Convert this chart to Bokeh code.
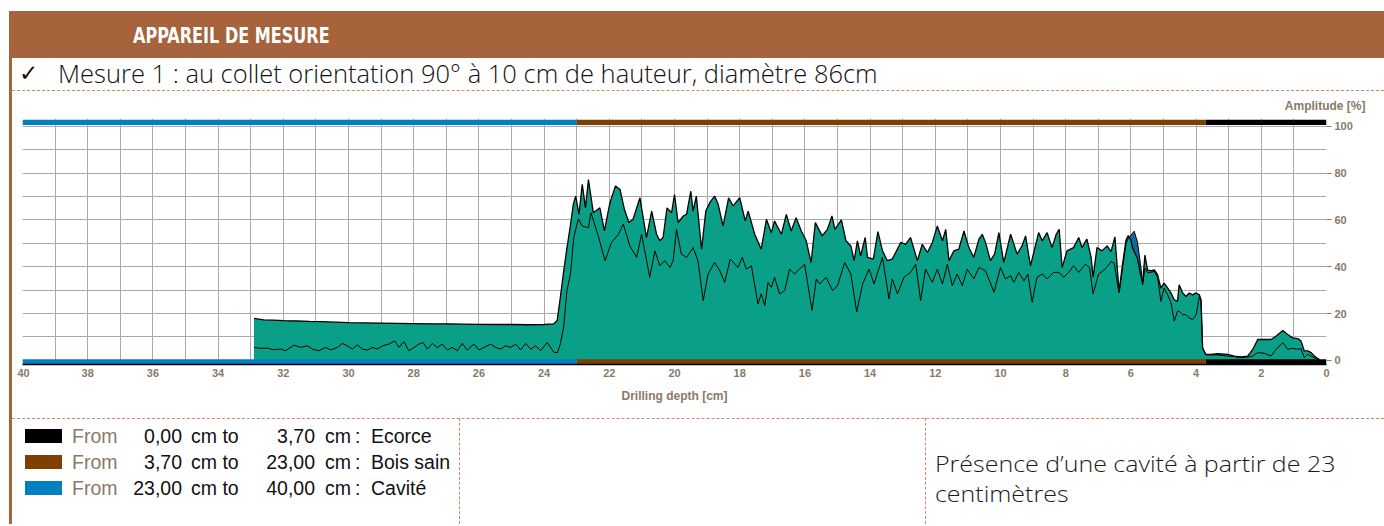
from bokeh.plotting import figure
from bokeh.models import Range1d, FixedTicker, LinearAxis, Div, Grid
from bokeh.layouts import column, row
from bokeh.embed import file_html
from bokeh.resources import INLINE

# ---------------- data ----------------
header_title = "APPAREIL DE MESURE"
subtitle = "Mesure 1 : au collet orientation 90° à 10 cm de hauteur, diamètre 86cm"
comment_lines = ["Présence d’une cavité à partir de 23", "centimètres"]
x_label = "Drilling depth [cm]"
y_label = "Amplitude [%]"

seg_names = ["Ecorce", "Bois sain", "Cavité"]
seg_start = [0.0, 3.7, 23.0]
seg_end = [3.7, 23.0, 40.0]
seg_colors = ["#000000", "#7f3f00", "#0080c0"]

x_ticks = list(range(0, 41, 2))
y_ticks = [0, 20, 40, 60, 80, 100]

# drilling resistance (filled curve)
depth_a = [32.9, 32.6, 32.3, 32.0, 31.6, 31.2, 30.8, 30.4, 30.0, 29.5, 29.0, 28.5, 28.0, 27.5, 27.0,
           26.5, 26.0, 25.5, 25.0, 24.5, 24.0, 23.7, 23.6, 23.5, 23.4, 23.3, 23.2, 23.1, 23.03, 22.93,
           22.83, 22.73, 22.64, 22.49, 22.29, 22.15, 21.98, 21.81, 21.67, 21.54, 21.4, 21.27, 21.06,
           20.86, 20.7, 20.55, 20.45, 20.35, 20.23, 20.09, 20.0, 19.89, 19.73, 19.63, 19.5, 19.43,
           19.33, 19.17, 19.04, 18.92, 18.77, 18.66, 18.51, 18.34, 18.2, 18.0, 17.83, 17.74, 17.54,
           17.34, 17.18, 17.03, 16.93, 16.72, 16.57, 16.42, 16.27, 16.11, 15.96, 15.81, 15.68, 15.47,
           15.31, 15.17, 15.08, 14.88, 14.74, 14.59, 14.49, 14.39, 14.29, 14.15, 14.08, 13.9, 13.76,
           13.62, 13.47, 13.32, 13.06, 12.91, 12.76, 12.55, 12.4, 12.24, 12.09, 11.94, 11.78, 11.68,
           11.58, 11.43, 11.28, 11.12, 10.97, 10.82, 10.66, 10.56, 10.46, 10.31, 10.18, 10.05, 9.9,
           9.69, 9.49, 9.34, 9.23, 9.08, 8.98, 8.83, 8.72, 8.57, 8.42, 8.29, 8.2, 8.11, 7.96, 7.76,
           7.6, 7.5, 7.35, 7.22, 7.16, 7.04, 6.89, 6.73, 6.61, 6.49, 6.41, 6.36, 6.26, 6.15, 6.08,
           6.0, 5.95, 5.8, 5.69, 5.64, 5.57, 5.49, 5.39, 5.28, 5.18, 5.08, 4.98, 4.87, 4.77, 4.67,
           4.57, 4.52, 4.41, 4.31, 4.21, 4.11, 4.0, 3.9, 3.85, 3.8, 3.7, 3.54, 3.34, 3.03, 2.83,
           2.62, 2.42, 2.26, 2.11, 1.91, 1.7, 1.55, 1.34, 1.19, 1.04, 0.88, 0.78, 0.68, 0.58, 0.47,
           0.37, 0.27, 0.22]
amp_a = [17.9, 17.3, 17.2, 17.0, 16.8, 16.6, 16.5, 16.3, 16.1, 16.0, 15.9, 15.8, 15.7, 15.6, 15.6,
         15.5, 15.4, 15.3, 15.3, 15.2, 15.3, 15.6, 17.0, 27.0, 38.0, 48.0, 57.0, 67.0, 70.2, 62.4,
         75.2, 65.2, 77.3, 63.1, 65.2, 55.3, 67.4, 74.5, 73.0, 64.7, 58.9, 60.3, 69.5,
         52.5, 63.8, 53.9, 51.1, 52.5, 65.2, 63.1, 70.9, 58.9, 61.7, 62.4, 72.3, 63.8,
         70.2, 47.5, 63.8, 67.4, 70.2, 66.7, 57.4, 69.5, 66.0, 69.5, 59.6, 63.8, 53.9,
         47.5, 60.3, 54.6, 59.6, 53.9, 62.4, 55.3, 61.0, 55.3, 51.1, 41.8, 58.9, 53.2,
         56.0, 61.7, 56.0, 60.0, 51.1, 48.9, 42.6, 51.1, 44.7, 52.5, 44.0, 43.3, 55.0,
         46.8, 42.6, 43.3, 50.4, 49.6, 52.5, 42.6, 49.6, 46.1, 50.4, 57.4, 51.1, 56.0,
         42.6, 46.8, 47.5, 55.3, 48.2, 44.0, 51.8, 53.9, 50.4, 42.6, 45.4, 54.6, 41.8,
         53.9, 45.4, 48.9, 53.2, 40.4, 46.1, 54.6, 51.1, 54.6, 48.2, 53.9, 56.0, 39.7, 46.8, 48.2,
         52.5, 48.2, 51.8, 44.0, 35.5, 48.2, 46.8, 48.9, 46.5, 52.8, 38.0, 29.5, 40.8, 51.4, 53.3,
         51.4, 48.0, 43.6, 35.8, 33.0, 45.0, 38.7, 38.2, 38.7, 36.5, 30.9, 33.0, 30.9, 28.8, 25.9,
         25.2, 32.3, 28.8, 27.3, 28.8, 28.0, 28.8, 28.0, 25.9, 5.4, 2.5, 2.5, 2.8, 2.5, 1.8,
         1.4, 1.8, 4.7, 8.9, 8.9, 8.9, 10.3, 12.7, 11.0, 9.6, 9.3, 8.2, 4.0, 4.0, 3.3,
         1.8, 0.7, 0.3]

# feed curve (line)
depth_b = [32.9, 32.7, 32.49, 32.29, 32.08, 31.93, 31.67, 31.47, 31.26, 31.11, 30.91, 30.7, 30.55,
           30.34, 30.19, 30.04, 29.88, 29.73, 29.58, 29.42, 29.27, 29.12, 28.96, 28.76, 28.58, 28.45,
           28.3, 28.15, 27.99, 27.84, 27.71, 27.58, 27.43, 27.28, 27.12, 26.97, 26.82, 26.66, 26.51,
           26.36, 26.15, 26.0, 25.84, 25.64, 25.49, 25.33, 25.18, 25.03, 24.87, 24.72, 24.57, 24.41,
           24.26, 24.11, 23.9, 23.7, 23.59, 23.5, 23.4, 23.3, 23.19, 23.09, 22.95, 22.83, 22.64,
           22.56, 22.34, 22.13, 21.93, 21.72, 21.57, 21.37, 21.16, 21.01, 20.76, 20.6, 20.45, 20.3,
           20.14, 20.04, 19.94, 19.79, 19.63, 19.43, 19.28, 19.12, 18.97, 18.77, 18.61, 18.46, 18.29,
           18.05, 17.92, 17.8, 17.64, 17.44, 17.34, 17.23, 17.13, 17.03, 16.93, 16.78, 16.62, 16.47,
           16.32, 16.16, 16.01, 15.78, 15.65, 15.55, 15.35, 15.15, 15.0, 14.78, 14.59, 14.41, 14.23,
           14.03, 13.88, 13.62, 13.42, 13.32, 13.16, 12.96, 12.76, 12.6, 12.45, 12.3, 12.09, 11.94,
           11.78, 11.63, 11.48, 11.33, 11.17, 11.02, 10.82, 10.66, 10.46, 10.2, 10.0, 9.85, 9.69,
           9.59, 9.44, 9.28, 9.16, 9.03, 8.88, 8.72, 8.57, 8.37, 8.21, 8.06, 7.91, 7.76, 7.6, 7.4,
           7.27, 7.16, 6.99, 6.79, 6.61, 6.51, 6.41, 6.36, 6.26, 6.15, 6.08, 6.0, 5.9, 5.8, 5.69,
           5.64, 5.57, 5.49, 5.39, 5.28, 5.18, 5.08, 4.98, 4.87, 4.77, 4.67, 4.57, 4.52, 4.41, 4.31,
           4.21, 4.11, 4.0, 3.9, 3.85, 3.8, 3.7, 3.54, 3.34, 3.03, 2.83, 2.62, 2.42, 2.26, 2.11,
           1.91, 1.7, 1.55, 1.34, 1.19, 1.04, 0.88, 0.78, 0.68, 0.58, 0.47, 0.37, 0.27, 0.22]
amp_b = [5.5, 5.1, 5.2, 4.5, 4.8, 4.1, 6.5, 5.5, 6.2, 4.8, 4.1, 5.5, 4.4,
         5.5, 7.2, 6.2, 4.8, 6.6, 4.8, 4.4, 5.5, 4.8, 6.2, 6.9, 8.3, 5.5,
         8.0, 4.1, 5.5, 6.9, 7.6, 4.8, 7.2, 5.5, 6.9, 4.4, 5.5, 4.1, 7.2,
         4.4, 6.9, 4.4, 5.5, 6.9, 5.5, 4.8, 6.2, 5.5, 6.9, 4.4, 7.2, 4.8,
         6.2, 4.1, 7.6, 3.4, 3.3, 7.1, 14.2, 29.8, 36.9, 52.5, 60.5, 57.4, 56.7,
         63.1, 53.2, 42.6, 50.4, 53.9, 58.2, 48.9, 44.0, 53.9, 35.5, 46.8, 40.4, 42.6,
         39.7, 42.6, 56.0, 45.4, 44.0, 48.2, 42.6, 25.5, 36.9, 41.8, 38.3, 33.3, 43.3,
         39.7, 44.0, 39.0, 40.4, 24.1, 28.4, 23.4, 33.3, 31.2, 35.5, 28.4, 29.8, 39.0,
         36.9, 39.0, 41.1, 21.3, 34.8, 32.6, 35.5, 29.8, 31.9, 41.8, 36.9, 20.6, 32.6,
         39.0, 32.6, 44.0, 26.2, 34.8, 28.4, 35.5, 37.6, 41.1, 25.5, 39.0, 33.3, 39.0,
         32.6, 41.1, 31.9, 36.9, 31.9, 39.0, 34.8, 39.7, 38.3, 29.1, 39.7, 34.8, 36.2,
         33.3, 37.6, 34.0, 36.9, 24.8, 35.5, 36.9, 34.8, 37.6, 37.6, 35.5, 37.6, 40.4, 37.6, 41.1,
         39.7, 28.4, 36.9, 39.0, 42.2, 41.5, 32.3, 28.8, 39.0, 50.0, 52.1, 53.5, 55.2, 50.7, 39.4,
         32.3, 39.4, 37.5, 37.6, 38.0, 35.4, 25.2, 30.9, 28.0, 24.5, 16.7, 21.0, 21.0, 19.5, 19.5,
         18.1, 17.4, 19.5, 27.3, 25.5, 5.0, 2.3, 2.3, 2.3, 1.8, 1.6, 1.1, 1.4, 1.8, 3.3,
         3.0, 1.8, 4.7, 7.5, 4.7, 5.1, 4.7, 5.0, 1.1, 2.5, 1.8, 1.1, 0.7, 0.3]

# ---------------- style ----------------
BROWN = "#a6633c"
DASH = "#c98b5f"
LABEL = "#8a7968"
TEAL = "#0aa087"
BLUE_FILL = "#11689a"
GRID = "#a9a9a9"
CHART_FONT = "Liberation Sans"

W = 1384

# ---------------- header ----------------
header = Div(width=W, height=58, margin=0, text=(
    f'<div style="position:relative;width:{W}px;height:58px;">'
    f'<div style="position:absolute;left:9px;top:11px;width:{W-9}px;height:47px;background:{BROWN};"></div>'
    f'<div style="position:absolute;left:133px;top:13px;height:47px;line-height:47px;color:#ffffff;'
    f'font-family:\'Liberation Sans Narrow\',\'DejaVu Sans Condensed\',sans-serif;font-weight:bold;'
    f'font-size:21px;white-space:nowrap;transform:scaleX(0.85);transform-origin:0 50%;">{header_title}</div>'
    '</div>'))

sub = Div(width=W, height=34, margin=0, text=(
    f'<div style="position:relative;width:{W}px;height:34px;">'
    f'<div style="position:absolute;left:9px;top:0px;width:3px;height:34px;background:{BROWN};"></div>'
    f'<div style="position:absolute;left:12px;top:32px;width:{W-12}px;height:0px;border-top:1px dashed {DASH};"></div>'
    f'<div style="position:absolute;left:19px;top:-2px;line-height:34px;font-family:\'DejaVu Sans\';'
    f'font-size:23px;color:#111;">&#10003;</div>'
    f'<div style="position:absolute;left:58px;top:-2px;line-height:34px;font-family:\'Open Sans\';'
    f'font-weight:300;font-size:25.5px;color:#111;white-space:nowrap;">{subtitle}</div>'
    '</div>'))

# ---------------- chart ----------------
SIDE = 17
p = figure(width=W - SIDE, height=326, x_range=Range1d(40, 0), y_range=Range1d(-1.8, 103.4),
           output_backend="svg", toolbar_location=None,
           x_axis_location=None, y_axis_location=None,
           min_border_left=5, min_border_right=58, min_border_top=25, min_border_bottom=54,
           background_fill_color="white", border_fill_color="white", outline_line_color=None)

p.add_layout(Grid(dimension=0, ticker=FixedTicker(ticks=list(range(0, 41))),
                  grid_line_color=GRID, grid_line_width=1))
p.add_layout(Grid(dimension=1, ticker=FixedTicker(ticks=list(range(0, 101, 10))),
                  grid_line_color=GRID, grid_line_width=1))

p.varea(x=depth_b, y1=0, y2=amp_b, fill_color=BLUE_FILL)
p.varea(x=depth_a, y1=0, y2=amp_a, fill_color=TEAL)

p.quad(left=seg_start, right=seg_end, bottom=[100.6] * 3, top=[102.9] * 3,
       fill_color=seg_colors, line_color=None)
p.quad(left=seg_start, right=seg_end, bottom=[-1.8] * 3, top=[0.4] * 3,
       fill_color=seg_colors, line_color=None)

p.line(depth_b, amp_b, line_color="black", line_width=1)
p.line(depth_a, amp_a, line_color="black", line_width=1.3)

xaxis = LinearAxis(ticker=FixedTicker(ticks=x_ticks), axis_label=x_label)
xaxis.axis_line_color = "black"
xaxis.axis_line_width = 1.5
xaxis.major_tick_line_color = None
xaxis.minor_tick_line_color = None
xaxis.major_tick_out = 0
xaxis.major_tick_in = 0
xaxis.major_label_standoff = 4
xaxis.major_label_text_font = CHART_FONT
xaxis.major_label_text_font_style = "bold"
xaxis.major_label_text_font_size = "11px"
xaxis.major_label_text_color = LABEL
xaxis.axis_label_text_font = CHART_FONT
xaxis.axis_label_text_font_style = "bold"
xaxis.axis_label_text_font_size = "12px"
xaxis.axis_label_text_color = LABEL
xaxis.axis_label_standoff = 9
p.add_layout(xaxis, "below")

yaxis = LinearAxis(ticker=FixedTicker(ticks=y_ticks))
yaxis.axis_line_color = None
yaxis.major_tick_line_color = LABEL
yaxis.major_tick_out = 5
yaxis.major_tick_in = 0
yaxis.minor_tick_line_color = None
yaxis.major_label_standoff = 3
yaxis.major_label_text_font = CHART_FONT
yaxis.major_label_text_font_style = "bold"
yaxis.major_label_text_font_size = "11px"
yaxis.major_label_text_color = LABEL
p.add_layout(yaxis, "right")

p.title.text = y_label
p.title.align = "right"
p.title.offset = -39
p.title.vertical_align = "middle"
p.title.text_font = CHART_FONT
p.title.text_font_style = "bold"
p.title.text_font_size = "12px"
p.title.text_color = LABEL

side_bar = Div(width=SIDE, height=326, margin=0, text=(
    f'<div style="position:relative;width:{SIDE}px;height:326px;">'
    f'<div style="position:absolute;left:9px;top:0px;width:3px;height:326px;background:{BROWN};"></div>'
    '</div>'))

chart_row = row(side_bar, p, spacing=0)

# ---------------- bottom (legend + comment) ----------------
def num(v):
    return f"{v:.2f}".replace(".", ",")

BH = 106
txt = ("position:absolute;height:26px;line-height:26px;white-space:nowrap;"
       "font-family:'Liberation Sans',Arial,sans-serif;font-size:19.5px;")
parts = [f'<div style="position:relative;width:{W}px;height:{BH}px;">',
         f'<div style="position:absolute;left:9px;top:0px;width:3px;height:{BH}px;background:{BROWN};"></div>',
         f'<div style="position:absolute;left:12px;top:0px;width:{W-12}px;height:0px;border-top:1px dashed {DASH};"></div>',
         f'<div style="position:absolute;left:459px;top:0px;width:0px;height:{BH}px;border-left:1px dashed {DASH};"></div>',
         f'<div style="position:absolute;left:925px;top:0px;width:0px;height:{BH}px;border-left:1px dashed {DASH};"></div>']
for i, (name, s, e, c) in enumerate(zip(seg_names, seg_start, seg_end, seg_colors)):
    t = 5 + 26 * i
    parts.append(f'<div style="position:absolute;left:25px;top:{t+6}px;width:37px;height:14px;background:{c};"></div>')
    parts.append(f'<div style="{txt}left:72px;top:{t}px;color:{LABEL};">From</div>')
    parts.append(f'<div style="{txt}left:112px;top:{t}px;width:70px;text-align:right;color:#111;">{num(s)}</div>')
    parts.append(f'<div style="{txt}left:191px;top:{t}px;color:#111;">cm to</div>')
    parts.append(f'<div style="{txt}left:245px;top:{t}px;width:70px;text-align:right;color:#111;">{num(e)}</div>')
    parts.append(f'<div style="{txt}left:325px;top:{t}px;color:#111;">cm</div>')
    parts.append(f'<div style="{txt}left:355px;top:{t}px;color:#111;">:</div>')
    parts.append(f'<div style="{txt}left:371px;top:{t}px;color:#111;">{name}</div>')
for j, line in enumerate(comment_lines):
    parts.append(f'<div style="position:absolute;left:935px;top:{30 + 30 * j}px;height:30px;line-height:30px;'
                 'white-space:nowrap;font-family:\'Open Sans\';font-weight:300;font-size:22px;color:#1a1a1a;'
                 f'transform:scaleX(1.135);transform-origin:0 50%;">{line}</div>')
parts.append('</div>')
bottom = Div(width=W, height=BH, margin=0, text="".join(parts))

layout = column(header, sub, chart_row, bottom, spacing=0)

open("out.html", "w").write(file_html(layout, INLINE))
